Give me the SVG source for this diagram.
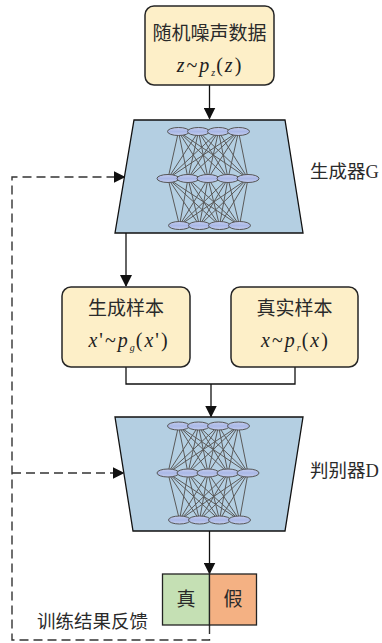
<svg xmlns="http://www.w3.org/2000/svg" xmlns:xlink="http://www.w3.org/1999/xlink" width="382" height="643" viewBox="0 0 382 643">
<style>
.box{fill:#fdefc8;stroke:#262626;stroke-width:1.5}
.trap{fill:#b4cfe2;stroke:#111;stroke-width:1.3}
.cn{font-family:"Liberation Serif","Noto Sans CJK SC",serif;font-size:19px;fill:#2a2a2a;text-anchor:middle}
.lbl{font-family:"Liberation Serif","Noto Sans CJK SC",serif;font-size:18.5px;fill:#2a2a2a}
.f{font-family:"Liberation Serif",serif;font-size:20px;fill:#222;text-anchor:middle;letter-spacing:2px}
.i{font-style:italic}
.sub{font-size:10px;font-style:italic;letter-spacing:1px}
.ln{fill:none;stroke:#111;stroke-width:1.3}
.dash{fill:none;stroke:#333;stroke-width:1.4;stroke-dasharray:9 5}
.nl{stroke:#5a5a5a;stroke-width:1}
.ne{fill:url(#eg);stroke:#555;stroke-width:1}
</style>
<defs>
<linearGradient id="eg" x1="0" y1="0" x2="0" y2="1">
<stop offset="0" stop-color="#c4cdf0"/><stop offset="0.5" stop-color="#aab8e6"/><stop offset="1" stop-color="#c4cdf0"/>
</linearGradient>
<marker id="ah" markerUnits="userSpaceOnUse" markerWidth="12" markerHeight="12" viewBox="0 0 12 12" refX="11" refY="6" orient="auto">
<path d="M0,0 L12,6 L0,12 z" fill="#111"/>
</marker>
<g id="net">
<g class="nl">
<path d="M178.5,0 L168,47 M178.5,0 L188,47 M178.5,0 L208,47 M178.5,0 L228,47 M178.5,0 L248,47
M198.5,0 L168,47 M198.5,0 L188,47 M198.5,0 L208,47 M198.5,0 L228,47 M198.5,0 L248,47
M218.5,0 L168,47 M218.5,0 L188,47 M218.5,0 L208,47 M218.5,0 L228,47 M218.5,0 L248,47
M238.5,0 L168,47 M238.5,0 L188,47 M238.5,0 L208,47 M238.5,0 L228,47 M238.5,0 L248,47
M168,47 L179.5,94 M168,47 L199.5,94 M168,47 L219.5,94 M168,47 L239.5,94
M188,47 L179.5,94 M188,47 L199.5,94 M188,47 L219.5,94 M188,47 L239.5,94
M208,47 L179.5,94 M208,47 L199.5,94 M208,47 L219.5,94 M208,47 L239.5,94
M228,47 L179.5,94 M228,47 L199.5,94 M228,47 L219.5,94 M228,47 L239.5,94
M248,47 L179.5,94 M248,47 L199.5,94 M248,47 L219.5,94 M248,47 L239.5,94"/>
</g>
<g class="ne">
<ellipse cx="178.5" cy="0" rx="11" ry="4"/><ellipse cx="198.5" cy="0" rx="11" ry="4"/><ellipse cx="218.5" cy="0" rx="11" ry="4"/><ellipse cx="238.5" cy="0" rx="11" ry="4"/>
<ellipse cx="168" cy="47" rx="11" ry="4"/><ellipse cx="188" cy="47" rx="11" ry="4"/><ellipse cx="208" cy="47" rx="11" ry="4"/><ellipse cx="228" cy="47" rx="11" ry="4"/><ellipse cx="248" cy="47" rx="11" ry="4"/>
<ellipse cx="179.5" cy="94" rx="11" ry="4"/><ellipse cx="199.5" cy="94" rx="11" ry="4"/><ellipse cx="219.5" cy="94" rx="11" ry="4"/><ellipse cx="239.5" cy="94" rx="11" ry="4"/>
</g>
</g>
</defs>

<g id="connectors">
<path class="ln" d="M209.5,85 L209.5,118.5" marker-end="url(#ah)"/>
<path class="ln" d="M126,233 L126,286" marker-end="url(#ah)"/>
<path class="ln" d="M126,367 L126,384 L295,384 L295,367"/>
<path class="ln" d="M211,384 L211,416.5" marker-end="url(#ah)"/>
<path class="ln" d="M209.5,531 L209.5,573.5" marker-end="url(#ah)"/>
<path class="dash" d="M209.5,625 L209.5,640 L12,640 L12,177 L124.5,177" marker-end="url(#ah)"/>
<path class="dash" d="M12,473 L123.5,473" marker-end="url(#ah)"/>
</g>

<g id="noise">
<rect class="box" x="145" y="6" width="129" height="79" rx="9"/>
<text class="cn" x="209.5" y="40">随机噪声数据</text>
<text class="f" x="210" y="72"><tspan class="i">z</tspan>~<tspan class="i">p</tspan><tspan class="sub" dy="4">z</tspan><tspan dy="-4">(</tspan><tspan class="i">z</tspan>)</text>
</g>

<g id="generator">
<path class="trap" d="M134,120 L285,120 L303,233 L115,233 Z"/>
<use xlink:href="#net" href="#net" transform="translate(0,131.5)"/>
<text class="lbl" x="310" y="178">生成器G</text>
</g>

<g id="fake-sample">
<rect class="box" x="62" y="287" width="128" height="80" rx="9"/>
<text class="cn" x="126" y="315">生成样本</text>
<text class="f" x="129" y="347"><tspan class="i">x</tspan>'~<tspan class="i">p</tspan><tspan class="sub" dy="4">g</tspan><tspan dy="-4">(</tspan><tspan class="i">x</tspan>')</text>
</g>

<g id="real-sample">
<rect class="box" x="231" y="287" width="127" height="80" rx="9"/>
<text class="cn" x="294.5" y="315">真实样本</text>
<text class="f" x="295.5" y="347"><tspan class="i">x</tspan>~<tspan class="i">p</tspan><tspan class="sub" dy="4">r</tspan><tspan dy="-4">(</tspan><tspan class="i">x</tspan>)</text>
</g>

<g id="discriminator">
<path class="trap" d="M115,417 L303,417 L285,531 L133,531 Z"/>
<use xlink:href="#net" href="#net" transform="translate(0,426)"/>
<text class="lbl" x="310" y="477">判别器D</text>
</g>

<g id="real">
<rect x="162.5" y="574" width="47" height="51" fill="#c5e0b4" stroke="#222" stroke-width="1.3"/>
<text class="cn" x="186" y="606">真</text>
</g>
<g id="fake">
<rect x="209.5" y="574" width="47" height="51" fill="#f4b183" stroke="#222" stroke-width="1.3"/>
<text class="cn" x="233" y="606">假</text>
</g>

<g id="feedback-label">
<text class="lbl" x="37" y="628">训练结果反馈</text>
</g>
</svg>
